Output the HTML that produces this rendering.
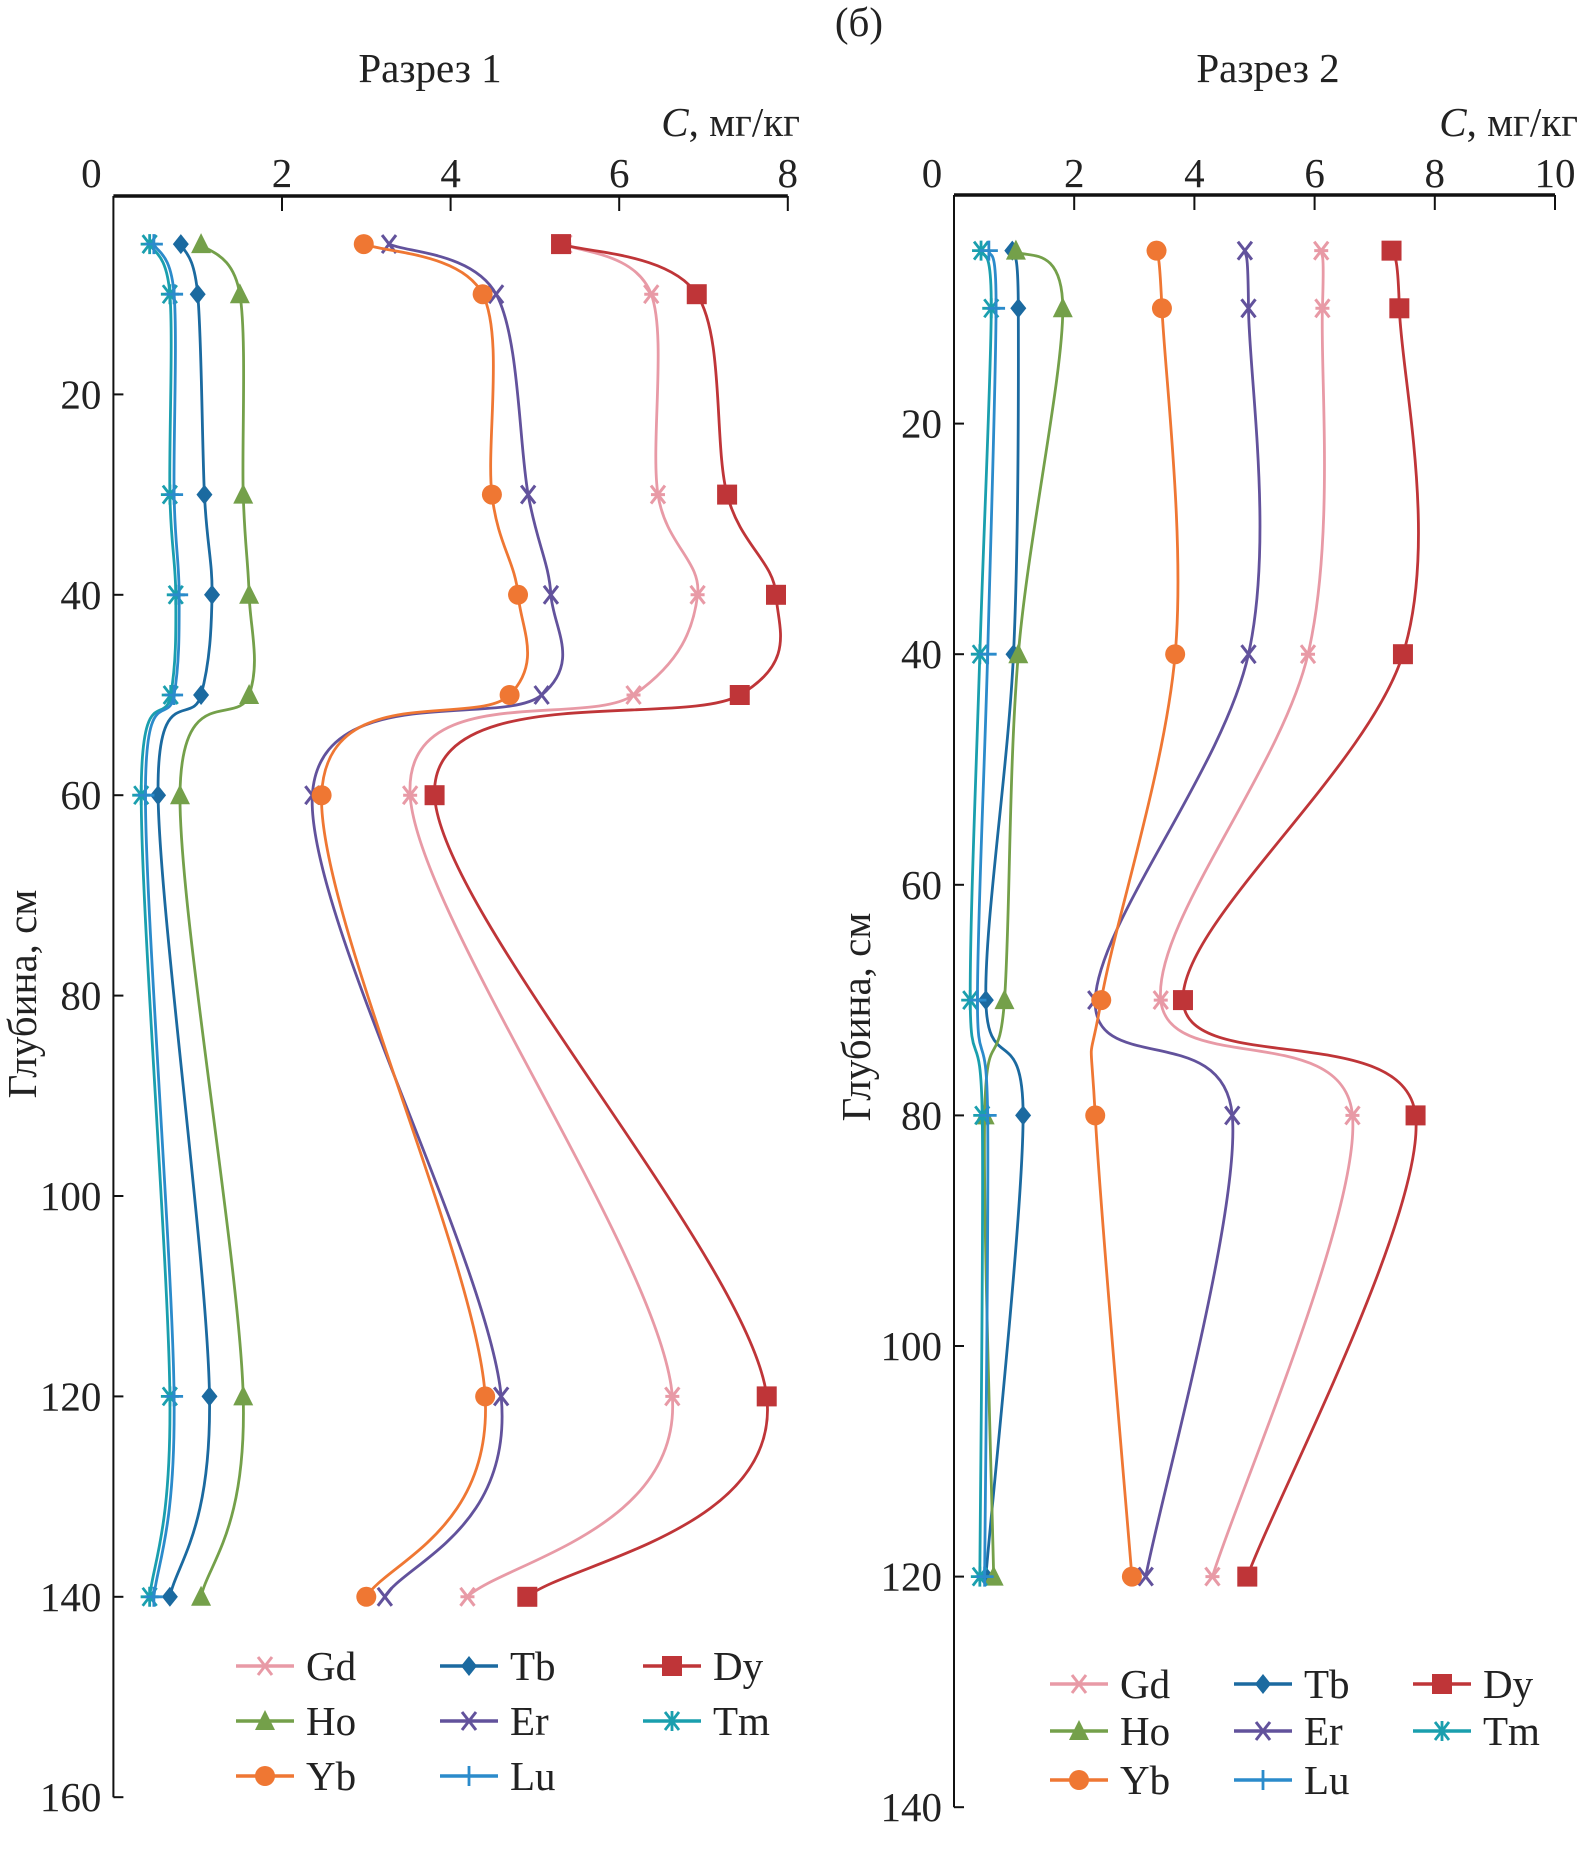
<!DOCTYPE html>
<html><head><meta charset="utf-8"><style>
body{margin:0;background:#fff}
svg{display:block}
text{font-family:"Liberation Serif",serif;fill:#222}
</style></head><body>
<svg id="c" width="1590" height="1849" viewBox="0 0 1590 1849">
<text x="859" y="36" font-size="41" text-anchor="middle">(б)</text>
</svg>
<script>
const elements = ["Gd","Tb","Dy","Ho","Er","Tm","Yb","Lu"];
const depths1 = [5,10,30,40,50,60,120,140];
const depths2 = [5,10,40,70,80,120];
const p1Gd=[5.35,6.38,6.46,6.93,6.17,3.52,6.63,4.20];
const p1Tb=[0.80,1.00,1.08,1.17,1.04,0.53,1.14,0.67];
const p1Dy=[5.31,6.92,7.28,7.86,7.43,3.81,7.75,4.91];
const p1Ho=[1.04,1.50,1.54,1.61,1.61,0.79,1.54,1.04];
const p1Er=[3.27,4.54,4.92,5.19,5.08,2.36,4.60,3.22];
const p1Tm=[0.43,0.67,0.67,0.74,0.68,0.33,0.67,0.43];
const p1Yb=[2.97,4.38,4.49,4.80,4.70,2.47,4.41,3.00];
const p1Lu=[0.48,0.72,0.72,0.78,0.72,0.38,0.72,0.48];
const p2Gd=[6.11,6.13,5.89,3.44,6.63,4.30];
const p2Tb=[0.97,1.07,0.99,0.53,1.15,0.53];
const p2Dy=[7.28,7.41,7.47,3.81,7.68,4.88];
const p2Ho=[1.03,1.81,1.07,0.84,0.51,0.66];
const p2Er=[4.84,4.90,4.90,2.35,4.63,3.19];
const p2Tm=[0.45,0.62,0.43,0.27,0.47,0.43];
const p2Yb=[3.37,3.46,3.68,2.45,2.35,2.96];
const p2Lu=[0.58,0.70,0.56,0.39,0.56,0.51];
const xTicks1=[0,2,4,6,8], yTicks1=[20,40,60,80,100,120,140,160];
const xTicks2=[0,2,4,6,8,10], yTicks2=[20,40,60,80,100,120,140];

const colors={Gd:"#e89aa6",Tb:"#1b6aa0",Dy:"#bf3538",Ho:"#74a04a",Er:"#62529c",Tm:"#1a9fae",Yb:"#ef7733",Lu:"#2b8bcb"};
const NS="http://www.w3.org/2000/svg";
const svg=document.getElementById('c');
const FS=41;
function mk(tag,attrs,parent){const e=document.createElementNS(NS,tag);for(const k in attrs)e.setAttribute(k,attrs[k]);(parent||svg).appendChild(e);return e;}

function marker(g,el,x,y){
  const c=colors[el];
  let m;
  if(el==="Gd"){m=mk('path',{d:`M${x-7},${y-9}L${x+7},${y+9}M${x+7},${y-9}L${x-7},${y+9}M${x-7},${y}L${x+7},${y}`,stroke:c,'stroke-width':3,fill:'none'},g);}
  else if(el==="Er"){m=mk('path',{d:`M${x-7},${y-9}L${x+7},${y+9}M${x+7},${y-9}L${x-7},${y+9}`,stroke:c,'stroke-width':3,fill:'none'},g);}
  else if(el==="Tm"){m=mk('path',{d:`M${x-7},${y-9}L${x+7},${y+9}M${x+7},${y-9}L${x-7},${y+9}M${x-9},${y}L${x+9},${y}M${x},${y-10}L${x},${y+10}`,stroke:c,'stroke-width':2.8,fill:'none'},g);}
  else if(el==="Lu"){m=mk('path',{d:`M${x-9},${y}L${x+9},${y}M${x},${y-10}L${x},${y+10}`,stroke:c,'stroke-width':2.8,fill:'none'},g);}
  else if(el==="Tb"){m=mk('path',{d:`M${x},${y-10}L${x+8},${y}L${x},${y+10}L${x-8},${y}Z`,fill:c},g);}
  else if(el==="Dy"){m=mk('rect',{x:x-10,y:y-10,width:20,height:20,fill:c},g);}
  else if(el==="Ho"){m=mk('path',{d:`M${x},${y-11}L${x+10},${y+9}L${x-10},${y+9}Z`,fill:c},g);}
  else if(el==="Yb"){m=mk('circle',{cx:x,cy:y,r:10,fill:c},g);}
  
  
  return m;
}
function spline(pts){
  let d=`M${pts[0][0]},${pts[0][1]}`;
  for(let i=0;i<pts.length-1;i++){
    const p0=pts[i-1]||pts[i],p1=pts[i],p2=pts[i+1],p3=pts[i+2]||p2;
    const c1=[p1[0]+(p2[0]-p0[0])/6,p1[1]+(p2[1]-p0[1])/6];
    const c2=[p2[0]-(p3[0]-p1[0])/6,p2[1]-(p3[1]-p1[1])/6];
    d+=`C${c1[0]},${c1[1]} ${c2[0]},${c2[1]} ${p2[0]},${p2[1]}`;
  }
  return d;
}
function panel(cfg){
  const {id,x0,xUnit,y0,yUnit,xMax,yMax,xTicks,yTicks,depths,data,title,titleX,cLabelX,ylabX,legend}=cfg;
  const X=v=>x0+v*xUnit, Y=v=>y0+v*yUnit;
  const g=mk('g',{});
  
  
  const t=mk('text',{x:titleX,y:82,'font-size':FS,'text-anchor':'middle'},g);t.textContent=title;
  
  
  const cl=mk('text',{x:cLabelX,y:136,'font-size':FS,'text-anchor':'end'},g);
  cl.innerHTML='<tspan font-style="italic">C</tspan>, мг/кг';
  
  
  const top=Y(0)+2;
  const xa=mk('line',{x1:X(0),y1:top,x2:X(xMax),y2:top,stroke:'#111','stroke-width':3.5},g);
  
  
  const ya=mk('line',{x1:X(0),y1:top,x2:X(0),y2:Y(yMax),stroke:'#111','stroke-width':2},g);
  
  
  xTicks.forEach(v=>{
    if(v>0){const l=mk('line',{x1:X(v),y1:top,x2:X(v),y2:top+15,stroke:'#111','stroke-width':2},g);
    
    }
    const tx=mk('text',{x:X(v)-(v===0?22:0),y:187,'font-size':FS,'text-anchor':'middle'},g);tx.textContent=v;
    
    
  });
  yTicks.forEach(v=>{
    const l=mk('line',{x1:X(0),y1:Y(v),x2:X(0)+10,y2:Y(v),stroke:'#111','stroke-width':2},g);
    
    
    const tx=mk('text',{x:X(0)-12,y:Y(v)+14,'font-size':FS,'text-anchor':'end'},g);tx.textContent=v;
    
    
  });
  const yl=mk('text',{x:ylabX,y:cfg.ylabY,'font-size':FS,'text-anchor':'middle',transform:`rotate(-90 ${ylabX} ${cfg.ylabY})`},g);
  yl.textContent='Глубина, см';
  
  
  elements.forEach(el=>{
    const vals=data[el];
    const pts=vals.map((v,i)=>[X(v),Y(depths[i])]);
    const sg=mk('g',{},g);
    
    
    const p=mk('path',{d:spline(pts),stroke:colors[el],'stroke-width':2.8,fill:'none'},sg);
    
    
    pts.forEach(q=>marker(sg,el,q[0],q[1]));
  });
  const order=["Gd","Tb","Dy","Ho","Er","Tm","Yb","Lu"];
  const lg=mk('g',{},g);
  
  
  order.forEach((el,i)=>{
    const r=Math.floor(i/3),c=i%3;
    const lx=legend.cols[c],ly=legend.rows[r];
    const eg=mk('g',{},lg);
    
    
    mk('line',{x1:lx,y1:ly,x2:lx+58,y2:ly,stroke:colors[el],'stroke-width':3.5},eg);
    marker(eg,el,lx+29,ly);
    const tt=mk('text',{x:lx+70,y:ly+14,'font-size':FS},eg);tt.textContent=el;
  });
}
panel({id:'razrez-1-panel',x0:113.4,xUnit:84.3,y0:194,yUnit:10.02,xMax:8,yMax:160,xTicks:xTicks1,yTicks:yTicks1,depths:depths1,
 data:{Gd:p1Gd,Tb:p1Tb,Dy:p1Dy,Ho:p1Ho,Er:p1Er,Tm:p1Tm,Yb:p1Yb,Lu:p1Lu},title:'Разрез 1',titleX:430,cLabelX:800,ylabX:36,ylabY:994,
 legend:{cols:[236,440,643],rows:[1666,1721,1776]}});
panel({id:'razrez-2-panel',x0:954,xUnit:60.1,y0:193,yUnit:11.53,xMax:10,yMax:140,xTicks:xTicks2,yTicks:yTicks2,depths:depths2,
 data:{Gd:p2Gd,Tb:p2Tb,Dy:p2Dy,Ho:p2Ho,Er:p2Er,Tm:p2Tm,Yb:p2Yb,Lu:p2Lu},title:'Разрез 2',titleX:1268,cLabelX:1578,ylabX:870,ylabY:1017,
 legend:{cols:[1050,1234,1413],rows:[1684,1731,1780]}});
</script>
</body></html>
